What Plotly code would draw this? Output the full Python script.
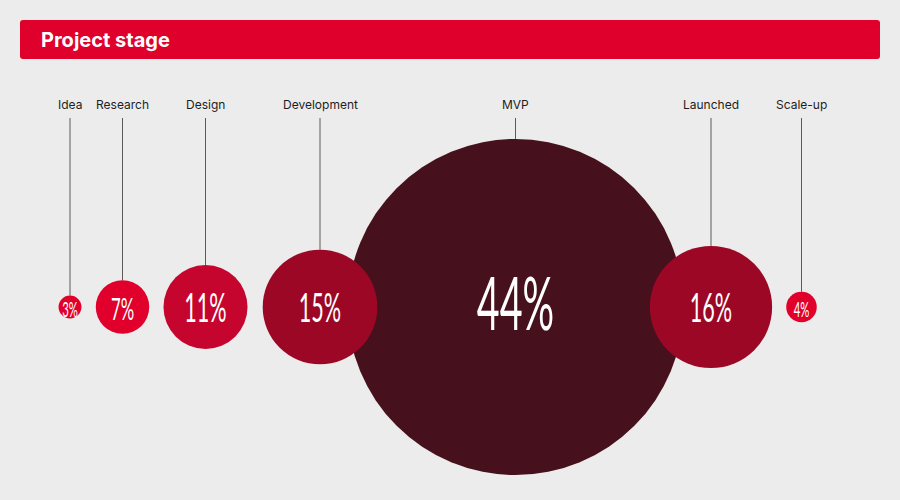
import plotly.graph_objects as go

# ---- data ----
stages = ["Idea", "Research", "Design", "Development", "MVP", "Launched", "Scale-up"]
shares = [3, 7, 11, 15, 44, 16, 4]
title = "Project stage"

# ---- layout / style constants ----
x_centers = [70, 122.5, 205.5, 320, 515.5, 711, 801.5]
y_center = 307
px_per_pct = 3.82
colors = ["#E0002B", "#E0002B", "#C6052F", "#9D0726", "#46111C", "#9D0726", "#E0002B"]
num_sizes = [21, 31, 40, 40, 73, 40, 21]
bg = "#ECECEC"

fig = go.Figure()

# leader lines
lx, ly = [], []
for x, v in zip(x_centers, shares):
    r = px_per_pct * v
    lx += [x, x, None]
    ly += [118, y_center - r, None]
fig.add_trace(go.Scatter(x=lx, y=ly, mode="lines",
                         line=dict(color="#5A5A5A", width=1),
                         hoverinfo="skip", showlegend=False))

# bubbles: biggest drawn first so neighbours sit on top
order = sorted(range(len(shares)), key=lambda i: -shares[i])
fig.add_trace(go.Scatter(
    x=[x_centers[i] for i in order], y=[y_center] * len(order), mode="markers+text",
    marker=dict(size=[2 * px_per_pct * shares[i] for i in order],
                color=[colors[i] for i in order], line=dict(width=0), opacity=1),
    text=[f"{shares[i]}%" for i in order], textposition="middle center",
    textfont=dict(family="Lato, Roboto, sans-serif", weight=400,
                  size=[num_sizes[i] for i in order], color="white"),
    hovertext=[stages[i] for i in order], hoverinfo="text",
    showlegend=False, cliponaxis=False))

# labels
for x, s in zip(x_centers, stages):
    fig.add_annotation(x=x, y=104, text=s, showarrow=False, xanchor="center", yanchor="middle",
                       font=dict(family="Inter, Roboto, sans-serif", size=12, color="#1E1E1E"))

# header bar with rounded corners
x0, x1, y0, y1, rr = 20, 880, 20, 59, 3
path = (f"M {x0+rr},{y0} L {x1-rr},{y0} Q {x1},{y0} {x1},{y0+rr} L {x1},{y1-rr} "
        f"Q {x1},{y1} {x1-rr},{y1} L {x0+rr},{y1} Q {x0},{y1} {x0},{y1-rr} "
        f"L {x0},{y0+rr} Q {x0},{y0} {x0+rr},{y0} Z")
fig.add_shape(type="path", path=path, xref="x", yref="y",
              fillcolor="#DF002B", line=dict(width=0), layer="below")
fig.add_annotation(x=39, y=40, text=f"<b>{title}</b>", showarrow=False,
                   xanchor="left", yanchor="middle",
                   font=dict(family="Inter, Roboto, sans-serif", size=20, color="white"))

fig.update_layout(
    width=900, height=500, margin=dict(l=0, r=0, t=0, b=0),
    paper_bgcolor=bg, plot_bgcolor=bg,
    xaxis=dict(range=[0, 900], visible=False, fixedrange=True),
    yaxis=dict(range=[500, 0], visible=False, fixedrange=True),
)

# narrow the percentage numbers horizontally (condensed look)
post = """
var gd = document.getElementById('{plot_id}');
function squeeze(){
  gd.querySelectorAll('.textpoint text').forEach(function(t){
    var x = parseFloat(t.getAttribute('x')), y = parseFloat(t.getAttribute('y'));
    t.setAttribute('transform', 'translate(' + x + ',' + (y + 5) + ') scale(0.54,1) translate(' + (-x) + ',' + (-y) + ')');
  });
}
squeeze();
gd.on('plotly_afterplot', squeeze);
"""
fig.write_html("out.html", post_script=post)
